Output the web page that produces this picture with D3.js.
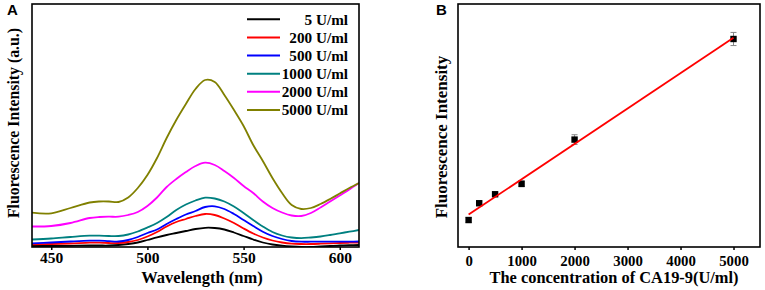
<!DOCTYPE html>
<html>
<head>
<meta charset="utf-8">
<script src="https://cdn.jsdelivr.net/npm/d3@7"></script>
<style>
  html, body { margin: 0; padding: 0; background: #fff; }
  svg { display: block; }
  text { font-family: "Liberation Serif", "Times New Roman", serif; font-weight: bold; fill: #000; }
</style>
</head>
<body>
<svg id="chart" width="765" height="290"></svg>
<script>
// ---------- Panel A data ----------
const wavelengths = [440,450,460,470,475,480,485,490,495,500,505,510,515,520,525,530,535,540,545,550,555,560,565,570,575,580,585,590,595,600,605,610];
const seriesNames = ["5 U/ml","200 U/ml","500 U/ml","1000 U/ml","2000 U/ml","5000 U/ml"];
const seriesColors = ["#000000","#ff0000","#0000ff","#008080","#ff00ff","#808000"];
const spec5    = [0,0,0.2,0.5,0.5,0.5,1,2,3.5,6,8.7,11,13,15,17,18.2,18,16.5,13.5,10,6.5,3.5,1.5,0.3,-0.5,-1,-1,-0.5,0,0.5,0.8,1];
const spec200  = [1.7,2,2.5,3.3,3.3,3,3,4,6,9.5,14,19.5,24,27,30,32,31,27.5,23,17.5,12.5,8.5,5.5,3.5,2.3,2,2,2.3,2.7,3,3.3,3.5];
const spec500  = [2.7,3.5,4.5,5.3,5.3,4.8,4.5,6,9,13,16.5,22,27,31.5,35,39,39.7,37,32,26,20,14.3,10,7,5,4.3,4.3,4.3,4.3,4.3,4.3,4.5];
const spec1000 = [6.5,7.5,9,10.3,10.3,10,10,11.5,14.5,18.5,23,29,36,41.5,45.5,48.3,47.5,44.5,39.5,33,26,19.5,14,10.5,8.5,7.8,8.5,9.5,11,12.7,14.3,16];
const spec2000 = [19.5,20,23,28,29,29.3,29.3,31,34,40,48.5,59,67,74,80,83.3,81,75,68,60,53,44.5,38,33.5,30.5,30,33,38.5,44.5,50.5,56.5,63];
const spec5000 = [33.3,32.7,38,43.5,44.5,44.5,44,48.5,58,71,88,108,126,142,157,166,164,151,136,120,101,85,68,53,41,37,38,42,47,52.5,58,63];
const spectra = [spec5, spec200, spec500, spec1000, spec2000, spec5000];
const xTicksA = [450, 500, 550, 600];

// ---------- Panel B data ----------
const concentrations = [0, 200, 500, 1000, 2000, 5000];
const intensities = [11.1, 18.0, 21.7, 26.0, 44.2, 85.6];
const errors = [1.0, 0.9, 0.9, 1.2, 2.0, 2.7];
const xTicksB = [0, 1000, 2000, 3000, 4000, 5000];

const svg = d3.select("#chart");

// ================= Panel A =================
const A = { left: 32, right: 359, top: 4, bottom: 247 };
const xA = d3.scaleLinear().domain([440, 610]).range([A.left, A.right]);
const yA = d3.scaleLinear().domain([-1, 242]).range([A.bottom, A.top]);

svg.append("defs").append("clipPath").attr("id", "clipA")
  .append("rect").attr("x", A.left).attr("y", A.top)
  .attr("width", A.right - A.left).attr("height", A.bottom - A.top);

const line = d3.line().curve(d3.curveCatmullRom.alpha(0.5))
  .x((d, i) => xA(wavelengths[i])).y(d => yA(d));

const gA = svg.append("g").attr("clip-path", "url(#clipA)");
spectra.forEach((s, k) => {
  gA.append("path").datum(s).attr("d", line)
    .attr("fill", "none").attr("stroke", seriesColors[k]).attr("stroke-width", 1.8);
});

// box
svg.append("rect").attr("x", A.left).attr("y", A.top)
  .attr("width", A.right - A.left).attr("height", A.bottom - A.top)
  .attr("fill", "none").attr("stroke", "#000").attr("stroke-width", 1.6);

const axA = svg.append("g").attr("transform", `translate(0,${A.bottom})`)
  .call(d3.axisBottom(xA).tickValues(xTicksA).tickSize(3).tickPadding(2).tickFormat(d3.format("d")));
axA.select(".domain").remove();
axA.selectAll("line").attr("stroke", "#000").attr("stroke-width", 1.5);
axA.selectAll("text").style("font-family", "'Liberation Serif', serif").style("font-weight", "bold")
  .style("font-size", "15.5px").attr("fill", "#000");

svg.append("text").attr("x", 202).attr("y", 282.5)
  .attr("text-anchor", "middle").style("font-size", "16.5px").text("Wavelength (nm)");
svg.append("text").attr("transform", "translate(19,123) rotate(-90)")
  .attr("text-anchor", "middle").style("font-size", "15.8px").text("Fluorescence Intensity (a.u.)");

// legend
const legRows = [19.3, 37.5, 55.6, 73.8, 91.8, 110];
seriesNames.forEach((n, k) => {
  svg.append("line").attr("x1", 247).attr("x2", 280)
    .attr("y1", legRows[k]).attr("y2", legRows[k])
    .attr("stroke", seriesColors[k]).attr("stroke-width", 2);
  svg.append("text").attr("x", 348).attr("y", legRows[k]).attr("dy", "0.35em")
    .attr("text-anchor", "end").style("font-size", "15.2px").text(n);
});

svg.append("text").attr("x", 7).attr("y", 15)
  .style("font-family", "'Liberation Sans', Arial, sans-serif").style("font-size", "15px").text("A");

// ================= Panel B =================
const B = { left: 458, right: 760, top: 4, bottom: 247 };
const xB = d3.scaleLinear().domain([-200, 5500]).range([B.left, B.right]);
const yB = d3.scaleLinear().domain([0, 100]).range([B.bottom, B.top]);

svg.append("rect").attr("x", B.left).attr("y", B.top)
  .attr("width", B.right - B.left).attr("height", B.bottom - B.top)
  .attr("fill", "none").attr("stroke", "#000").attr("stroke-width", 1.6);

const axB = svg.append("g").attr("transform", `translate(0,${B.bottom})`)
  .call(d3.axisBottom(xB).tickValues(xTicksB).tickSize(3).tickPadding(5).tickFormat(d3.format("d")));
axB.select(".domain").remove();
axB.selectAll("line").attr("stroke", "#000").attr("stroke-width", 1.5);
axB.selectAll("text").style("font-family", "'Liberation Serif', serif").style("font-weight", "bold")
  .style("font-size", "14.8px").attr("fill", "#000");

svg.append("text").attr("x", 614).attr("y", 282.5)
  .attr("text-anchor", "middle").style("font-size", "16.4px").text("The concentration of CA19-9(U/ml)");
svg.append("text").attr("transform", "translate(447,137) rotate(-90)")
  .attr("text-anchor", "middle").style("font-size", "17px").text("Fluorescence Intensity");

svg.append("text").attr("x", 436).attr("y", 15)
  .style("font-family", "'Liberation Sans', Arial, sans-serif").style("font-size", "15px").text("B");

// error bars
const eb = svg.append("g").attr("stroke", "#888").attr("stroke-width", 1);
concentrations.forEach((c, i) => {
  const x = xB(c), y1 = yB(intensities[i] - errors[i]), y2 = yB(intensities[i] + errors[i]);
  eb.append("line").attr("x1", x).attr("x2", x).attr("y1", y1).attr("y2", y2);
  eb.append("line").attr("x1", x - 3).attr("x2", x + 3).attr("y1", y1).attr("y2", y1);
  eb.append("line").attr("x1", x - 3).attr("x2", x + 3).attr("y1", y2).attr("y2", y2);
});

// markers
svg.append("g").selectAll("rect").data(concentrations).join("rect")
  .attr("x", d => xB(d) - 3.2).attr("y", (d, i) => yB(intensities[i]) - 3.2)
  .attr("width", 6.4).attr("height", 6.4).attr("fill", "#000");

// least-squares fit line
const mx = d3.mean(concentrations), my = d3.mean(intensities);
const sxy = d3.sum(concentrations, (c, i) => (c - mx) * (intensities[i] - my));
const sxx = d3.sum(concentrations, c => (c - mx) * (c - mx));
const slope = sxy / sxx, intercept = my - slope * mx;
const fitX = [0, 5000];
svg.append("path").datum(fitX)
  .attr("d", d3.line().x(d => xB(d)).y(d => yB(intercept + slope * d)))
  .attr("stroke", "#ff0000").attr("stroke-width", 1.8).attr("fill", "none");
</script>
</body>
</html>
